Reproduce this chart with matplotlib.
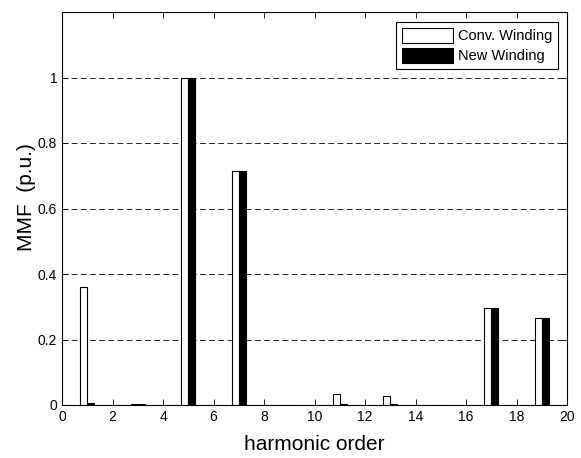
import matplotlib
matplotlib.use("Agg")
import matplotlib.pyplot as plt
import numpy as np

plt.rcParams['font.family'] = ['Liberation Sans', 'DejaVu Sans']

harmonics = [1, 3, 5, 7, 9, 11, 13, 15, 17, 19]
conv_winding = [0.36, 0.003, 1.0, 0.715, 0.0, 0.035, 0.027, 0.0, 0.295, 0.267]
new_winding = [0.005, 0.003, 1.0, 0.715, 0.0, 0.002, 0.003, 0.0, 0.295, 0.267]
xticks = list(range(0, 21, 2))
yticks = [0, 0.2, 0.4, 0.6, 0.8, 1.0]
yticklabels = ['0', '0.2', '0.4', '0.6', '0.8', '1']

fig = plt.figure(figsize=(5.81, 4.58), dpi=100)
ax = fig.add_axes([62/581, (458-405)/458, (567-62)/581, (405-12)/458])

h = np.array(harmonics)
w = 0.28
ax.bar(h - w/2, conv_winding, width=w, color='white', edgecolor='black', linewidth=0.8,
       label='Conv. Winding', zorder=3)
ax.bar(h + w/2, new_winding, width=w, color='black', edgecolor='black', linewidth=0.8,
       label='New Winding', zorder=3)

ax.set_xlim(0, 20)
ax.set_ylim(0, 1.2)
ax.set_xticks(xticks)
ax.set_yticks(yticks)
ax.set_yticklabels(yticklabels)
ax.tick_params(direction='in', top=True, right=True, labelsize=10, length=4, width=0.6)
ax.yaxis.grid(True, linestyle=(0, (7, 4)), color='black', linewidth=0.6, zorder=0)
for s in ax.spines.values():
    s.set_linewidth(0.8)

ax.set_xlabel('harmonic order', fontsize=15, labelpad=8)
ax.set_ylabel('MMF  (p.u.)', fontsize=15)
ax.yaxis.set_label_coords(-0.052, 0.53)

leg = ax.legend(loc='upper right', fontsize=10.5, frameon=True, fancybox=False,
                edgecolor='black', framealpha=1, handlelength=3.5, handleheight=1.2,
                borderpad=0.4, labelspacing=0.3, handletextpad=0.35,
                bbox_to_anchor=(0.997, 0.993))
leg.get_frame().set_linewidth(0.8)

fig.savefig('out.png', dpi=100)
